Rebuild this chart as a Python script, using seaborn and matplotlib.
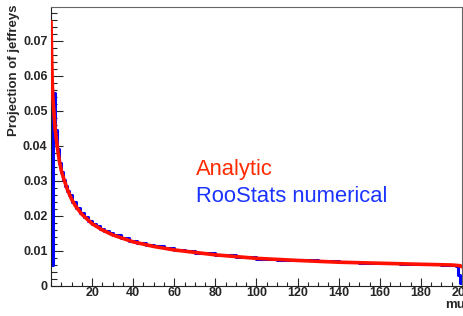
import numpy as np
import matplotlib
matplotlib.use("Agg")
import matplotlib.pyplot as plt
import seaborn as sns
from matplotlib.ticker import MultipleLocator, FixedLocator, FuncFormatter

# analytic curve (mu, value)
red_mu = [0, 0.3, 0.6, 1, 1.5, 2, 3, 4, 5, 6, 8, 10, 12, 15, 20, 25, 30, 40, 50,
          60, 70, 80, 90, 100, 120, 140, 160, 180, 195, 199, 200]
red_val = [0.0755, 0.066, 0.058, 0.053, 0.049, 0.045, 0.040, 0.036, 0.033, 0.031,
           0.0275, 0.0248, 0.0228, 0.0205, 0.0178, 0.0160, 0.0146, 0.0126, 0.0113,
           0.0103, 0.0096, 0.0089, 0.0084, 0.0079, 0.0073, 0.0068, 0.0065, 0.0062,
           0.0060, 0.0058, 0.0055]

# numerical histogram (bin edges + contents)
blue_edges = [0, 1, 2, 3, 4, 5, 6, 7, 8, 9, 10, 12, 14, 16, 18, 20, 22, 24, 26, 28,
              30, 34, 38, 42, 46, 50, 55, 60, 65, 70, 80, 90, 100, 110, 120, 130,
              140, 150, 160, 170, 180, 190, 197, 198, 199, 200]
blue_val = [0.006, 0.055, 0.0445, 0.039, 0.0352, 0.0325, 0.0303, 0.0287, 0.0272,
            0.026, 0.0241, 0.0223, 0.0208, 0.0196, 0.0186, 0.0177, 0.0170, 0.0163,
            0.0157, 0.0152, 0.0145, 0.0137, 0.0129, 0.0124, 0.0118, 0.0113, 0.0108,
            0.0103, 0.0100, 0.0094, 0.0088, 0.0083, 0.0078, 0.0075, 0.0073, 0.0070,
            0.0068, 0.0066, 0.0065, 0.0063, 0.0062, 0.0060, 0.0058, 0.0030, 0.0008]

x_ticks = [20, 40, 60, 80, 100, 120, 140, 160, 180, 200]
y_ticks = [0, 0.01, 0.02, 0.03, 0.04, 0.05, 0.06, 0.07]

sns.set_style("ticks")
plt.rcParams['font.family'] = ['Liberation Sans', 'DejaVu Sans']

fig = plt.figure(figsize=(4.64, 3.16), dpi=100)
ax = fig.add_axes([51 / 464, 1 - 286 / 316, 411 / 464, 279 / 316])

centers = [(a + b) / 2 for a, b in zip(blue_edges[:-1], blue_edges[1:])]
sns.histplot(x=centers, weights=blue_val, bins=blue_edges, element="step",
             fill=False, color="#0000ff", linewidth=2.2, ax=ax, zorder=2)
sns.lineplot(x=red_mu, y=red_val, color="#ff1000", linewidth=2.6, ax=ax, zorder=3)

ax.set_xlim(0, 200)
ax.set_ylim(0, 0.0797)
ax.set_xlabel("")
ax.set_ylabel("")

ax.xaxis.set_major_locator(FixedLocator(x_ticks))
ax.xaxis.set_minor_locator(MultipleLocator(5))
ax.yaxis.set_major_locator(FixedLocator(y_ticks))
ax.yaxis.set_minor_locator(MultipleLocator(0.002))
ax.yaxis.set_major_formatter(FuncFormatter(lambda v, p: "0" if v == 0 else f"{v:.2f}"))
ax.xaxis.set_major_formatter(FuncFormatter(lambda v, p: f"{v:.0f}"))

ax.tick_params(axis="y", which="major", direction="in", length=8.6, width=0.8,
               labelsize=9, pad=2.5)
ax.tick_params(axis="y", which="minor", direction="in", length=4.3, width=0.8)
ax.tick_params(axis="x", which="major", direction="in", length=5.8, width=0.8,
               labelsize=9, pad=1)
ax.tick_params(axis="x", which="minor", direction="in", length=2.9, width=0.8)
for lab in ax.get_xticklabels() + ax.get_yticklabels():
    lab.set_fontweight("bold")

for side in ["left", "bottom"]:
    ax.spines[side].set_color("#222222")
    ax.spines[side].set_linewidth(0.8)
for side in ["top", "right"]:
    ax.spines[side].set_visible(True)
    ax.spines[side].set_color("#666666")
    ax.spines[side].set_linewidth(0.8)

fig.text(14 / 464, 1 - 4 / 316, "Projection of jeffreys", rotation=90,
         ha="center", va="top", fontsize=9.5, fontweight="bold")
fig.text(445 / 464, 1 - 308 / 316, "mu", ha="left", va="baseline",
         fontsize=9.5, fontweight="bold")

fig.text(196 / 464, 1 - 175.5 / 316, "Analytic", color="#ff2a00",
         ha="left", va="baseline", fontsize=15.8)
fig.text(196 / 464, 1 - 201.5 / 316, "RooStats numerical", color="#1a33ff",
         ha="left", va="baseline", fontsize=15.8)

fig.savefig("out.png", dpi=100)
